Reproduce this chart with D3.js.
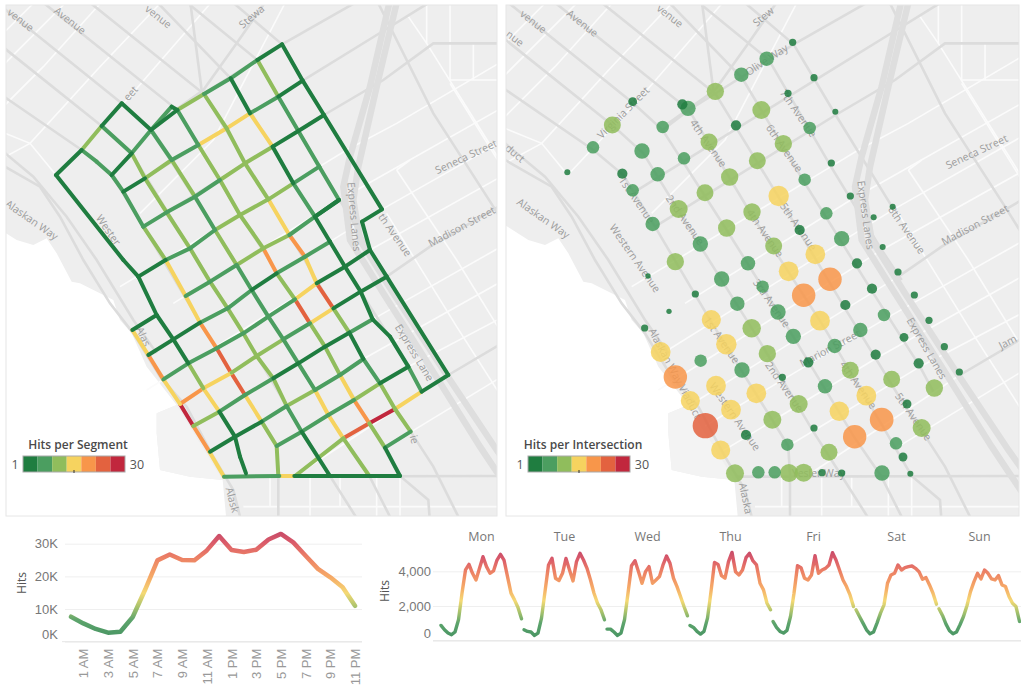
<!DOCTYPE html>
<html>
<head>
<meta charset="utf-8">
<script src="https://cdn.jsdelivr.net/npm/d3@7"></script>
<style>
  body { margin: 0; background: #fff; }
  svg { display: block; font-family: "Open Sans", sans-serif; }
</style>
</head>
<body>
<div id="chart"></div>
<script>
// ---- hits colour bins
const binColors = ["#1f7d40", "#4b9e60", "#90bd5c", "#f6d35f", "#f8964a", "#e3623f", "#c1273d"];

// ---- street segments in map units: node lists, then hits per stretch between nodes
const streetNodes = [
  [[453,390],[532,330],[612,282],[692,235],[772,180],[846,133]],
  [[453,390],[515,320],[532,330]],
  [[370,575],[435,535],[515,480],[595,435],[680,385],[750,340],[835,290],[908,242]],
  [[430,680],[500,637],[585,590],[660,540],[735,490],[818,440],[895,393],[972,345]],
  [[415,830],[497,780],[570,745],[645,690],[720,645],[805,598],[880,550],[958,500]],
  [[557,888],[630,845],[710,795],[790,745],[868,705],[945,650],[1017,600]],
  [[445,1065],[520,1018],[600,968],[683,925],[755,870],[830,820],[915,770],[990,725]],
  [[397,990],[470,945]],
  [[490,1138],[565,1090],[650,1045],[730,1000],[805,950],[885,898],[950,850],[1035,800],[1110,750]],
  [[540,1212],[610,1165],[695,1118],[770,1068],[850,1018],[930,970],[1000,925],[1082,875],[1160,830]],
  [[580,1278],[658,1235],[735,1185],[820,1135],[895,1090],[975,1040],[1048,998],[1118,958]],
  [[630,1355],[705,1310],[785,1265],[860,1218],[945,1170],[1020,1125],[1090,1077]],
  [[830,1338],[905,1295],[985,1245],[1062,1200],[1140,1150],[1225,1100]],
  [[885,1428],[1030,1315],[1108,1270],[1185,1227],[1265,1175],[1345,1125]],
  [[1155,1343],[1232,1295]],
  [[672,1430],[838,1428],[883,1428],[990,1428],[1200,1428]],
  [[365,310],[453,390]],
  [[365,310],[305,378],[245,450],[168,525]],
  [[305,378],[395,460]],
  [[245,450],[290,485],[335,525]],
  [[335,525],[395,460],[453,390]],
  [[397,990],[445,1065],[490,1138],[540,1212],[580,1278],[628,1355],[672,1430]],
  [[168,525],[370,780],[415,830],[470,945],[520,1018],[565,1090],[610,1165],[658,1235],[705,1310],[720,1370],[738,1420]],
  [[335,525],[370,575],[430,680],[497,780],[557,888],[600,968],[650,1045],[693,1118],[735,1185],[785,1265],[830,1338],[835,1428]],
  [[395,460],[435,535],[500,637],[570,745],[630,845],[683,925],[730,1000],[770,1068],[820,1135],[860,1218],[905,1295],[990,1428]],
  [[453,390],[515,480],[585,590],[645,690],[710,795],[755,870],[805,950],[850,1018],[895,1090],[945,1170],[985,1245],[1030,1315],[1108,1428]],
  [[532,330],[595,435],[660,540],[720,645],[790,745],[830,820],[885,898],[930,970],[975,1040],[1020,1125],[1062,1200],[1108,1270],[1155,1343],[1200,1428]],
  [[612,282],[680,385],[735,490],[805,598],[868,705],[915,770],[950,850],[1000,925],[1048,998],[1090,1077],[1140,1150],[1185,1227],[1232,1295]],
  [[692,235],[750,340],[818,440],[880,550],[945,650],[990,725],[1035,800],[1082,875],[1118,958],[1170,1010],[1225,1100],[1265,1175]],
  [[772,180],[835,290],[895,393],[958,500],[1017,600],[945,650]],
  [[846,133],[908,242],[972,345],[1146,628],[1086,665],[1110,750],[1160,830],[1345,1125]]
];
const streetHits = [
  [3,11,7,7,3],
  [7,3],
  [3,11,7,15,15,7,3],
  [7,7,7,11,11,3,3],
  [3,7,7,11,11,11,7],
  [7,7,11,11,7,3],
  [3,3,7,7,3,7,7],
  [3],
  [7,7,7,7,7,15,3,3],
  [19,15,11,11,7,15,3,3],
  [11,7,7,3,3,3,7],
  [3,3,7,11,7,7],
  [7,7,7,11,3],
  [11,23,28,15,3],
  [7],
  [7,15,3,3],
  [3],
  [3,11,3],
  [7],
  [7,7],
  [3,7],
  [15,19,15,28,19,15],
  [3,3,3,3,3,11,15,3,3,3],
  [7,7,11,15,15,19,23,23,15,11,11],
  [11,11,11,11,11,11,11,11,11,7,3],
  [7,11,7,11,7,7,7,7,7,15,15,11],
  [7,11,11,11,19,11,23,11,11,15,19,11,3],
  [11,11,11,15,19,15,23,11,3,7,11,11],
  [3,15,3,7,3,3,3,3,3,3,7],
  [11,7,7,7,3],
  [3,3,3,3,3,3,3]
];

// ---- intersections: x, y, hits
const intersectionX = [863,785,709,631,549,532,383,322,473,264,187,411,352,458,383,443,537,612,693,769,849,927,991,914,835,757,674,600,521,979,899,821,741,665,586,511,1036,964,884,806,729,1106,1163,1133,1010,931,1056,
  429,650,773,851,975,896,1101,1179,1228,571,492,697,819,1021,945,1137,619,740,419,865,1066,1272,1197,664,989,467,787,1318,587,910,1112,1241,711,1036,1363,511,633,832,1160,960,1288,754,1084,556,881,1206,678,1003,1130,601,802,1250,723,927,1049,1173,647,847,972,1194,690,760,809,852,896,951,1010,1131,1216];
const intersectionY = [127,176,224,274,325,313,305,375,381,442,517,453,521,523,571,672,475,426,376,330,280,233,335,384,431,482,531,578,627,489,539,588,636,684,732,785,588,640,690,738,790,652,620,741,716,763,790,
  828,837,860,814,838,886,866,816,885,882,934,911,936,915,962,945,959,985,984,1009,990,961,1012,1033,1038,1056,1061,1040,1082,1087,1064,1090,1110,1111,1116,1131,1157,1132,1138,1159,1164,1180,1187,1202,1212,1212,1229,1234,1259,1277,1259,1284,1305,1284,1310,1330,1350,1334,1357,1371,1420,1417,1417,1419,1418,1418,1419,1419,1421];
const intersectionHits = [2,8,8,11.5,9,4,3,11,6,6,1.4,9,4,8,6,8,6,11,4,12.4,2,2,1.4,6,11.5,11,11.5,11,12.4,2,6,16,11.5,11.5,9,11.5,2,6,4,11,8,1.4,1.4,1.4,9,15,4,
  1.1,9,6,15,21,21,4,2,2,2,1.1,8,9,4,15,6,14,13,2,9,8,2,3,16,8,15,11.5,2,6,4,4,4,9,11,2,21,15,2,11,8,11.5,15,15,14,12.4,3,15,14.5,21.5,24.6,12.4,12.4,4,2,21,6,14,6,11,3,12.4,6,6,12.4,12.4,2,2,9,1.4];

// ---- base map in map units
const majorRoads = [
  [[-20,268],[245,450],[335,525],[430,680],[600,968],[735,1185],[830,1338],[835,1428],[835,1570]],
  [[-20,118],[305,378],[395,460],[570,745],[730,1000],[905,1295],[990,1428],[1080,1570]],
  [[-20,0],[365,310],[453,390],[645,690],[850,1018],[1030,1315],[1108,1428],[1180,1570]],
  [[120,0],[532,330],[720,645],[930,970],[1108,1270],[1200,1428],[1285,1500],[1290,1570]],
  [[260,0],[612,282],[805,598],[1000,925],[1185,1227],[1232,1295],[1300,1400],[1385,1570]],
  [[465,0],[692,235],[880,550],[1082,875],[1225,1100],[1265,1175]],
  [[570,15],[772,180],[958,500],[1110,750],[1170,840]],
  [[690,0],[846,133],[972,345],[1146,628]],
  [[453,390],[532,330],[846,133],[1080,0]],
  [[370,575],[908,242],[1130,105],[1300,0]],
  [[430,680],[972,345],[1150,240],[1300,130],[1530,130]],
  [[470,370],[610,270],[710,130],[800,0]],
  [[570,0],[605,270]],
  [[1160,830],[1290,740],[1530,600]],
  [[1345,1125],[1540,1010]],
  [[672,1430],[1540,1428]],
  [[-20,480],[120,560],[180,650],[250,780],[330,910],[400,1000],[480,1130],[560,1220],[640,1370],[700,1470],[725,1570]],
  [[-20,430],[100,530],[200,650],[290,780],[400,960],[470,1060]],
  [[1130,0],[1300,340],[1480,620],[1530,700]]
];
const freewayRoads = [
  [[1170,0],[1110,260],[1050,470],[1030,560],[1050,720],[1150,880],[1290,1100],[1440,1340],[1540,1490]],
  [[1192,0],[1130,260],[1075,500],[1060,600],[1080,720],[1180,880],[1330,1110],[1490,1350],[1540,1420]]
];
const minorRoads = [
  [[360,860],[958,500],[1040,450],[1190,370],[1530,170]],
  [[520,910],[1017,600],[1530,310]],
  [[445,1065],[990,725],[1146,628],[1530,410]],
  [[440,1170],[1110,750],[1530,515]],
  [[540,1212],[1160,830]],
  [[580,1278],[1118,958],[1530,725]],
  [[630,1355],[1090,1077],[1530,830]],
  [[830,1338],[1225,1100],[1530,940]],
  [[885,1428],[1345,1125]],
  [[1155,1343],[1530,1115]],
  [[-20,350],[130,200],[310,0]],
  [[-20,490],[90,430],[300,200],[490,0]],
  [[-20,385],[90,430],[168,525],[380,300],[640,0]],
  [[-20,225],[205,0]],
  [[-20,130],[110,0]],
  [[420,640],[640,420],[860,0]],
  [[1190,510],[1250,600],[1370,780],[1530,1040]],
  [[1190,510],[1230,480]],
  [[1225,50],[1280,130],[1530,530]],
  [[1350,250],[1530,540]],
  [[1160,640],[1370,980],[1530,1230]],
  [[1280,0],[1280,130]],
  [[1350,0],[1350,240]],
  [[1420,130],[1420,240]],
  [[1350,240],[1530,240]],
  [[730,1520],[1540,1520]],
  [[810,1430],[810,1520]],
  [[930,1430],[930,1570]],
  [[1020,1430],[1020,1520]],
  [[1130,1430],[1130,1570]],
  [[1200,1430],[1200,1570]]
];
const waterArea = [[-20,675],[50,720],[100,735],[140,715],[170,760],[215,845],[240,850],[300,880],[340,900],[360,960],[395,1000],[440,1100],[530,1215],[470,1240],[470,1300],[480,1410],[570,1430],[668,1440],[680,1570],[-20,1570]];
const pierArea = [[470,1240],[530,1215],[668,1440],[570,1430],[480,1410],[470,1300]];

// ---- map labels: text, x, y, angle. Words the map cuts at its frame are kept as they show
const leftLabels = [
  ["venue",62,60,38],["Avenue",210,62,38],["venue",475,50,38],["Stewa",755,50,-40],["eet",392,280,-48],
  ["Alaskan Way",95,660,35],["Wester",325,690,55],["Express Lanes",1062,650,85],["th Avenue",1185,705,55],
  ["Madison Street",1385,680,-28],["Seneca Street",1398,470,-25],["Express Lane",1243,1058,59],
  ["Alas",430,1010,65],["Alask",697,1500,75],["ie",1243,1318,75]
];
const rightLabels = [
  ["venue",85,65,38],["Avenue",232,70,38],["venue",495,48,38],["nue",30,115,38],["Stew",775,50,-40],
  ["Olive Way",785,180,-33],["Virginia Street",355,338,-45],["duct",30,460,40],["4th Avenue",610,430,55],
  ["6th Avenue",838,445,55],["7th Avenue",880,340,55],["Seneca Street",1415,455,-25],["Madison Street",1410,675,-28],
  ["Express Lanes",1082,645,82],["8th Avenue",1205,690,55],["Alaskan Way",115,655,35],["Western Avenue",390,775,55],
  ["5th Avenue",880,680,55],["1st Avenue",395,600,55],["2nd Avenue",540,660,55],["4th Avenue",780,700,55],
  ["3rd Avenue",800,910,55],["2nd Avenue",838,1160,55],["1st Avenue",650,1020,55],["Western Avenue",690,1250,55],
  ["Alaskan Way Viaduct",510,1120,62],["4th Avenue",1060,1155,55],["5th Avenue",1225,1250,55],["Marion Street",975,1045,-28],
  ["Express Lanes",1265,1045,60],["Yesler Way",940,1420,0],["Jam",1508,1026,-28],["Alaska",722,1495,78]
];

// ---- hits by hour of day
const hourLabels = ["12 AM","1 AM","2 AM","3 AM","4 AM","5 AM","6 AM","7 AM","8 AM","9 AM","10 AM","11 AM","12 PM","1 PM","2 PM","3 PM","4 PM","5 PM","6 PM","7 PM","8 PM","9 PM","10 PM","11 PM"];
const hourTicks = ["1 AM","3 AM","5 AM","7 AM","9 AM","11 AM","1 PM","3 PM","5 PM","7 PM","9 PM","11 PM"];
const hourHits = [7650,5600,3900,2750,3050,7550,15900,24900,26700,25000,24900,27950,32350,28050,27450,28150,31300,33000,30400,26300,22300,19700,16700,11000];

// ---- hits by day and hour
const dayLabels = ["Mon","Tue","Wed","Thu","Fri","Sat","Sun"];
const monHits = [880,630,440,345,500,1205,2740,4080,4400,3885,3500,4170,4840,4270,3885,4020,4650,4975,4650,3695,2740,2355,1915,1265];
const tueHits = [630,535,500,305,440,1300,2830,4365,4745,3600,3465,3885,4745,4075,3445,4555,5035,4650,4170,3500,2735,2160,1780,1205];
const wedHits = [670,670,500,305,440,1205,2735,4325,4610,3980,3310,3980,4270,3310,3500,3695,4365,4880,4460,3600,3120,2545,1970,1435];
const thuHits = [880,765,535,385,535,1300,2830,4515,4400,3750,3600,4555,5090,3980,3790,4075,4785,5035,4595,4365,3310,2930,2160,1780];
const friHits = [1110,765,535,440,595,1395,2735,4325,4210,3600,3500,3790,4900,3885,4075,4170,4365,5070,4650,4075,3500,3120,2640,1970];
const satHits = [1780,1395,1015,630,400,500,1015,1590,2065,3310,3790,3885,4365,4075,4210,4270,4305,4170,3980,3540,3635,3215,2735,2105];
const sunHits = [1840,1455,955,570,400,500,920,1395,2030,2830,3405,3885,3560,4075,3885,3560,3500,3750,3215,3120,2545,2160,1970,1110];
const weekHits = [monHits, tueHits, wedHits, thuHits, friHits, satHits, sunHits];

// colour along the line charts, as share of the top of the line
const rampShare = [0, 0.2, 0.33, 0.45, 0.6, 0.78, 0.92, 1];
const rampColors = ["#2f8550", "#4b9a5c", "#a3bd5c", "#f3d565", "#f5a056", "#ea7354", "#d6495a", "#c43a58"];

var width = 1021, height = 688;
var svg = d3.select("#chart").append("svg").attr("width", width).attr("height", height);
var defs = svg.append("defs");

var binScale = d3.scaleQuantize().domain([1, 30]).range(binColors);
var radiusScale = d3.scaleSqrt().domain([0, 30]).range([0, 14]);

// draws the shared base map, returns the layer to put marks on
function drawMap(id, box, x, y, labels, labelX) {
  defs.append("clipPath").attr("id", id).append("rect")
    .attr("x", box.x).attr("y", box.y).attr("width", box.w).attr("height", box.h);
  var g = svg.append("g").attr("clip-path", "url(#" + id + ")");
  g.append("rect").attr("x", box.x).attr("y", box.y).attr("width", box.w).attr("height", box.h).attr("fill", "#eeeeee");

  var path = d3.line().x(d => x(d[0])).y(d => y(d[1]));
  g.append("path").attr("d", path(waterArea) + "Z").attr("fill", "#fff");
  g.append("path").attr("d", path(pierArea) + "Z").attr("fill", "#f3f3f3");

  g.selectAll(".minor").data(minorRoads).join("path").attr("d", path)
    .attr("fill", "none").attr("stroke", "#fbfbfb").attr("stroke-width", 1.6);
  g.selectAll(".major").data(majorRoads).join("path").attr("d", path)
    .attr("fill", "none").attr("stroke", "#dcdcdc").attr("stroke-width", 2.6);
  g.selectAll(".freeway").data(freewayRoads).join("path").attr("d", path)
    .attr("fill", "none").attr("stroke", "#dedede").attr("stroke-width", 6.5);

  g.selectAll(".label").data(labels).join("text")
    .attr("transform", d => "translate(" + labelX(d[1]) + "," + y(d[2]) + ") rotate(" + d[3] + ")")
    .attr("text-anchor", "middle").attr("dy", "0.35em")
    .attr("font-size", 10.5).attr("fill", "#9c9c9c")
    .text(d => d[0]);

  svg.append("rect").attr("x", box.x).attr("y", box.y).attr("width", box.w).attr("height", box.h)
    .attr("fill", "none").attr("stroke", "#e6e6e6");
  return g;
}

// legend under each map title
function drawLegend(title, left) {
  var g = svg.append("g");
  var cell = d3.scaleBand().domain(d3.range(binColors.length)).range([left + 23, left + 125]);
  g.append("text").attr("x", left + 78).attr("y", 449).attr("text-anchor", "middle")
    .attr("font-size", 12).attr("font-weight", 600).attr("fill", "#4a4a4a").text(title);
  g.selectAll("rect").data(binColors).join("rect")
    .attr("x", (d, i) => cell(i)).attr("y", 456).attr("width", cell.bandwidth()).attr("height", 16).attr("fill", d => d);
  g.append("rect").attr("x", left + 23).attr("y", 456).attr("width", 102).attr("height", 16)
    .attr("fill", "none").attr("stroke", "#a9a9a9");
  g.append("line").attr("x1", left + 74).attr("x2", left + 74).attr("y1", 470).attr("y2", 473).attr("stroke", "#333");
  g.append("text").attr("x", left + 15).attr("y", 469).attr("text-anchor", "middle").attr("font-size", 12.5).attr("fill", "#555").text("1");
  g.append("text").attr("x", left + 137).attr("y", 469).attr("text-anchor", "middle").attr("font-size", 12.5).attr("fill", "#555").text("30");
}

// left map
var leftX = d3.scaleLinear().domain([0, 1500]).range([0, 500]);
var leftY = d3.scaleLinear().domain([0, 1560]).range([0, 520]);
var leftMap = drawMap("clip-left", {x: 6, y: 5, w: 491, h: 511}, leftX, leftY, leftLabels, leftX);

var segments = [];
streetNodes.forEach(function (nodes, s) {
  d3.pairs(nodes).forEach(function (pair, i) {
    segments.push({a: pair[0], b: pair[1], hits: streetHits[s][i]});
  });
});
segments.sort((p, q) => q.hits - p.hits);
leftMap.selectAll(".seg").data(segments).join("line")
  .attr("x1", d => leftX(d.a[0])).attr("y1", d => leftY(d.a[1]))
  .attr("x2", d => leftX(d.b[0])).attr("y2", d => leftY(d.b[1]))
  .attr("stroke", d => binScale(d.hits))
  .attr("stroke-width", 4).attr("stroke-linecap", "round");

// right map, the same base map sits 20 map units further along
var rightX = d3.scaleLinear().domain([0, 1548]).range([505, 1021]);
var roadX = d3.scaleLinear().domain([-20, 1528]).range([505, 1021]);
var rightMap = drawMap("clip-right", {x: 506, y: 5, w: 513, h: 511}, roadX, leftY, rightLabels, rightX);

var dots = intersectionHits.map((h, i) => ({x: intersectionX[i], y: intersectionY[i], hits: h}));
dots.sort((p, q) => q.hits - p.hits);
rightMap.selectAll(".dot").data(dots).join("circle")
  .attr("cx", d => rightX(d.x)).attr("cy", d => leftY(d.y))
  .attr("r", d => radiusScale(d.hits))
  .attr("fill", d => binScale(d.hits)).attr("fill-opacity", 0.86);

drawLegend("Hits per Segment", 0);
drawLegend("Hits per Intersection", 505);

function addRamp(id, yScale, top) {
  var grad = defs.append("linearGradient").attr("id", id).attr("gradientUnits", "userSpaceOnUse")
    .attr("x1", 0).attr("x2", 0).attr("y1", yScale(0)).attr("y2", yScale(top));
  rampShare.forEach(function (s, i) {
    grad.append("stop").attr("offset", s).attr("stop-color", rampColors[i]);
  });
}

function styleAxis(g) {
  g.select(".domain").remove();
  g.selectAll(".tick line").attr("stroke", "#efefef");
  g.selectAll(".tick text").attr("fill", "#777").attr("font-size", 13);
}

// hour chart
var hourX = d3.scalePoint().domain(hourLabels).range([71, 355]);
var hourY = d3.scaleLinear().domain([0, 30000]).range([641.7, 543.7]);
addRamp("ramp-hour", hourY, 33000);

var hourYAxis = svg.append("g").attr("transform", "translate(65,0)")
  .call(d3.axisLeft(hourY).tickValues([0, 10000, 20000, 30000]).tickFormat(d => (d / 1000) + "K").tickSize(-297).tickPadding(7))
  .call(styleAxis);
hourYAxis.selectAll(".tick").filter(d => d == 0).select("text").attr("dy", "-0.22em");

var hourXAxis = svg.append("g").attr("transform", "translate(0,641.7)")
  .call(d3.axisBottom(hourX).tickValues(hourTicks).tickSize(0))
  .call(styleAxis);
hourXAxis.selectAll(".tick text").attr("transform", "rotate(-90)").attr("text-anchor", "end")
  .attr("x", -7).attr("y", 0).attr("dy", "0.35em").attr("fill", "#999");
svg.append("line").attr("x1", 62).attr("x2", 362).attr("y1", 641.7).attr("y2", 641.7).attr("stroke", "#e6e6e6");

svg.append("text").attr("transform", "translate(22,583) rotate(-90)").attr("text-anchor", "middle").attr("dy", "0.35em")
  .attr("font-size", 12).attr("fill", "#555").text("Hits");

svg.append("path").attr("d", d3.line().x((d, i) => hourX(hourLabels[i])).y(d => hourY(d))(hourHits))
  .attr("fill", "none").attr("stroke", "url(#ramp-hour)").attr("stroke-width", 4.5).attr("stroke-opacity", 0.9)
  .attr("stroke-linejoin", "round").attr("stroke-linecap", "round");

// week chart
var dayX = d3.scaleBand().domain(dayLabels).range([440, 1021]);
var dayHourX = d3.scaleLinear().domain([0, 23]).range([1, 81.5]);
var weekY = d3.scaleLinear().domain([0, 4000]).range([640.7, 571.3]);
addRamp("ramp-week", weekY, 5100);

svg.append("g").attr("transform", "translate(433,0)")
  .call(d3.axisLeft(weekY).tickValues([0, 2000, 4000]).tickFormat(d3.format(",")).tickSize(-588).tickPadding(2))
  .call(styleAxis)
  .selectAll(".tick").filter(d => d == 0).select("text").attr("dy", "-0.22em");
svg.append("line").attr("x1", 433).attr("x2", 1021).attr("y1", 640.7).attr("y2", 640.7).attr("stroke", "#e6e6e6");

svg.append("text").attr("transform", "translate(385,591) rotate(-90)").attr("text-anchor", "middle").attr("dy", "0.35em")
  .attr("font-size", 12).attr("fill", "#555").text("Hits");

svg.selectAll(".day-label").data(dayLabels).join("text")
  .attr("x", d => dayX(d) + dayX.bandwidth() / 2).attr("y", 541).attr("text-anchor", "middle")
  .attr("font-size", 12.5).attr("fill", "#777").text(d => d);

svg.selectAll(".day-line").data(weekHits).join("path")
  .attr("d", function (values, k) {
    return d3.line().x((d, h) => dayX(dayLabels[k]) + dayHourX(h)).y(d => weekY(d))(values);
  })
  .attr("fill", "none").attr("stroke", "url(#ramp-week)").attr("stroke-width", 3.4).attr("stroke-opacity", 0.9)
  .attr("stroke-linejoin", "round").attr("stroke-linecap", "round");
</script>
</body>
</html>
